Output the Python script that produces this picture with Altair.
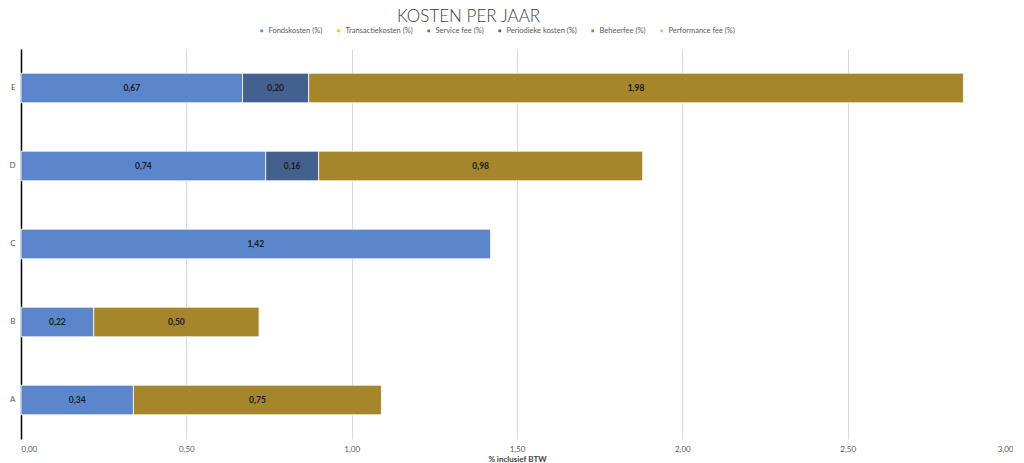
import altair as alt
import pandas as pd

categories = ["A", "B", "C", "D", "E"]
series = ["Fondskosten (%)", "Transactiekosten (%)", "Service fee (%)",
          "Periodieke kosten (%)", "Beheerfee (%)", "Performance fee (%)"]
colors = ["#5B86CC", "#FFC000", "#6E7F4E", "#44608F", "#A6862A", "#A9D18E"]

fondskosten = [0.34, 0.22, 1.42, 0.74, 0.67]
periodieke_kosten = [0.00, 0.00, 0.00, 0.16, 0.20]
beheerfee = [0.75, 0.50, 0.00, 0.98, 1.98]

x_ticks = [0.0, 0.5, 1.0, 1.5, 2.0, 2.5, 3.0]

rows = []
for i, c in enumerate(categories):
    for s, vals in [(series[0], fondskosten), (series[3], periodieke_kosten), (series[4], beheerfee)]:
        v = vals[i]
        if v > 0:
            rows.append({"cat": c, "serie": s, "value": v, "order": series.index(s),
                         "label": f"{v:.2f}".replace(".", ",")})
df = pd.DataFrame(rows)

FONT = "Lato"

base = alt.Chart(df).transform_stack(
    stack="value", groupby=["cat"], sort=[alt.SortField("order")], as_=["x0", "x1"]
).transform_calculate(mid="(datum.x0 + datum.x1) / 2")

y_enc = alt.Y("cat:N", sort=categories[::-1], title=None,
              scale=alt.Scale(paddingInner=0.62, paddingOuter=0.31),
              axis=alt.Axis(domainColor="#000000", domainWidth=1.5, ticks=False,
                            labelFont=FONT, labelFontSize=8, labelColor="#595959",
                            labelPadding=6, grid=False))

bars = base.mark_bar(stroke="white", strokeWidth=0.8).encode(
    x=alt.X("x0:Q", scale=alt.Scale(domain=[0, 3]), title="% inclusief BTW",
            axis=alt.Axis(values=x_ticks, grid=True, gridColor="#d9d9d9", gridWidth=1,
                          domain=False, ticks=False, labelFont=FONT, labelFontSize=8,
                          labelColor="#595959", labelPadding=6,
                          labelExpr="replace(format(datum.value, '.2f'), '.', ',')",
                          titleFont=FONT, titleFontSize=8, titleFontWeight="bold",
                          titleColor="#404040", titlePadding=2)),
    x2="x1:Q",
    y=y_enc,
    color=alt.Color("serie:N", scale=alt.Scale(domain=series, range=colors),
                    legend=alt.Legend(title=None, orient="none", direction="horizontal",
                                      legendX=237, legendY=-22,
                                      symbolType="square", symbolSize=18,
                                      labelFont=FONT, labelFontSize=7.5, labelColor="#595959",
                                      columnPadding=10, symbolOffset=0, labelOffset=3)),
)

labels = base.mark_text(font=FONT, fontSize=8.5, fontWeight="bold", color="#1a1a1a").encode(
    x="mid:Q",
    y=alt.Y("cat:N", sort=categories[::-1]),
    text="label:N",
)

chart = (bars + labels).properties(
    width=992, height=390, padding=0,
    title=alt.TitleParams("KOSTEN PER JAAR", font=FONT, fontSize=17, fontWeight=300,
                          color="#404040", anchor="start", dx=388, offset=1),
).configure_view(stroke=None)

chart.save("out.html", embed_options={"renderer": "svg", "actions": False})
